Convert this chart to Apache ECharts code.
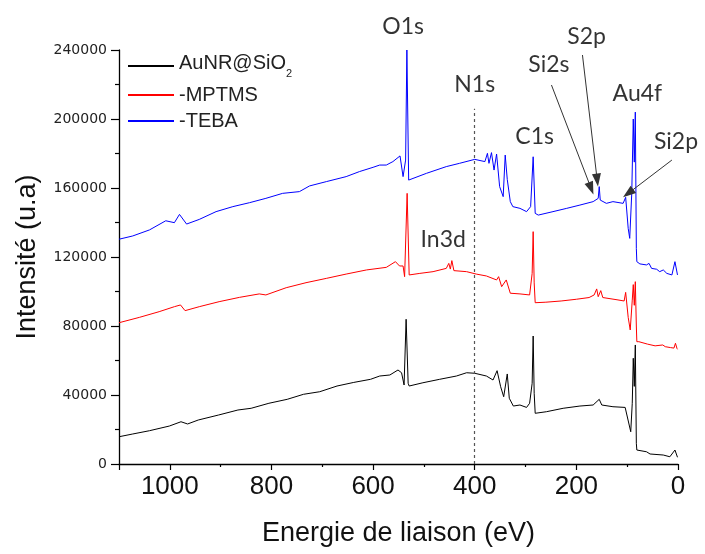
<!DOCTYPE html>
<html><head><meta charset="utf-8">
<script src="https://cdn.jsdelivr.net/npm/echarts@6/dist/echarts.min.js"></script>
<style>html,body{margin:0;padding:0;background:#fff}#c{width:705px;height:554px}</style>
</head><body><div id="c"></div>
<script>
const seriesNames = ['AuNR@SiO2', '-MPTMS', '-TEBA'];
const seriesColors = ['#000000', '#ff0000', '#0000ff'];

// [binding energy (eV), intensity]
const blackData = [
[1100,15800],[1073,17400],[1040,19300],[1001,22000],[978,24500],[965,23200],[944,25500],[904,28400],[866,31300],[840,32300],[805,35200],[769,37500],[737,40400],[705,41900],[671,45200],[638,47300],[605,49100],[587,51000],[567,51600],[551,54500],[544,52900],[539,45800],[535,83900],[531,46800],[529,45200],[502,47100],[469,49100],[436,51000],[416,52900],[400,52600],[377,51000],[364,48700],[356,54100],[349,44800],[343,39000],[336,52200],[332,38100],[324,33600],[311,34200],[298,32800],[292,35200],[287,46800],[285,74200],[283,41000],[281,29400],[259,30300],[226,32300],[193,33600],[167,34200],[155,37500],[150,34200],[128,33200],[104,32800],[101,33600],[93,18700],[90,35200],[88,61300],[86,45000],[84,69000],[82,12000],[81,8100],[62,7100],[55,5800],[29,5200],[16,4200],[6,8100],[1,3900]
];
const redData = [
[1100,81900],[1060,85000],[1021,88300],[991,91200],[979,92200],[970,88900],[942,91200],[903,94100],[863,96600],[824,98600],[811,98000],[771,102200],[732,105100],[692,107600],[653,110100],[613,112500],[574,114000],[556,117300],[548,114800],[541,114800],[538,108600],[533,156900],[529,109600],[508,110500],[482,111500],[456,113400],[451,116300],[448,113000],[445,117900],[441,112100],[416,111500],[397,110100],[377,109000],[357,106700],[353,108600],[347,102800],[338,106700],[330,99000],[311,98600],[292,98000],[287,110500],[285,134700],[283,105000],[281,93500],[260,93800],[230,94500],[200,95500],[175,96500],[165,98000],[160,101500],[157,97000],[152,100500],[148,96500],[120,95200],[106,94500],[103,99500],[98,85000],[94,77700],[90,95000],[88,104000],[86,92000],[84,105700],[82,80000],[81,70900],[77,70900],[60,69500],[45,68500],[30,69000],[25,68000],[15,67500],[8,67200],[5,70000],[2,67000],[1,66500]
];
const blueData = [
[1100,130300],[1073,132200],[1040,135700],[1008,141000],[991,139900],[981,144700],[967,139100],[942,141800],[909,146300],[876,149200],[843,151500],[811,154000],[778,156900],[745,157900],[725,161200],[692,163700],[653,166600],[627,169500],[600,172000],[587,173300],[574,173300],[561,175300],[547,178600],[541,166600],[536,176200],[533.5,240000],[530,164600],[495,168500],[456,172400],[430,174300],[400,176600],[380,175300],[375,180100],[372,174300],[367,180500],[362,170400],[357,179700],[351,160800],[344,155000],[340,179100],[336,165000],[330,152100],[325,149200],[311,148200],[298,146300],[290,149200],[285,178100],[281,145300],[275,144300],[246,146300],[219,148200],[193,150100],[167,152100],[157,154000],[155,160800],[153,153000],[141,151100],[128,152100],[108,151100],[103,154600],[98,136600],[95,130800],[91,157000],[88,200000],[86,175000],[84,204000],[82,125000],[81,117300],[75,116000],[62,115400],[57,116300],[52,113400],[42,112900],[36,111500],[29,112500],[22,110500],[12,109600],[6,117300],[1,109600]
];

// x-axis / y-axis ticks
const xTicks = {min: 0, max: 1100, interval: 200};
const yTicks = {min: 0, max: 240000, interval: 40000};

// peak annotations (text, energy, intensity)
const annoLabels = ['O1s', 'N1s', 'C1s', 'Si2s', 'S2p', 'Au4f', 'Si2p', 'In3d'];
const annoE = [541, 400, 282, 254, 180, 80, 4, 462];
const annoV = [253500, 219700, 189700, 231300, 247700, 214900, 186800, 129900];
// arrows (from -> to)
const arrowFrom = [[249, 219700], [188, 237100], [12, 176200]];
const arrowTo = [[171, 159800], [159, 164600], [98, 156900]];
// N1s reference line
const n1sLine = [[400, 0], [400, 206000]];

const chart = echarts.init(document.getElementById('c'), null, {renderer: 'canvas'});

const dataSets = [blackData, redData, blueData];
const lineSeries = seriesNames.map((n, i) => ({
  name: n, type: 'line', data: dataSets[i], symbol: 'none', showSymbol: false,
  lineStyle: {color: seriesColors[i], width: 1}, itemStyle: {color: seriesColors[i]},
  silent: true, z: 3
}));
lineSeries[0].markLine = {
  silent: true, symbol: ['none', 'none'], label: {show: false},
  lineStyle: {color: '#555', type: [3, 3], width: 1.2},
  data: [[{coord: n1sLine[0]}, {coord: n1sLine[1]}]]
};

const annoSeries = {
  name: 'anno', type: 'scatter', clip: false, silent: true, z: 10,
  symbolSize: 1, itemStyle: {color: 'rgba(0,0,0,0)'},
  data: annoLabels.map((t, i) => ({name: t, value: [annoE[i], annoV[i]]})),
  label: {show: true, position: 'inside', formatter: '{b}', fontFamily: 'Lato', fontSize: 23, color: '#000'},
  markLine: {
    silent: true, symbol: ['none', 'triangle'], symbolSize: [9, 13], label: {show: false},
    lineStyle: {color: '#333', type: 'solid', width: 1},
    data: arrowFrom.map((f, i) => [{coord: f}, {coord: arrowTo[i]}])
  }
};

const option = {
  animation: false,
  backgroundColor: '#fff',
  grid: {left: 119, right: 27, top: 50, bottom: 90},
  legend: {
    data: seriesNames, orient: 'vertical', left: 128, top: 53, padding: 0, itemGap: 6,
    icon: 'rect', itemWidth: 46, itemHeight: 2,
    textStyle: {
      fontFamily: 'Liberation Sans', fontSize: 20, color: '#222',
      rich: {
        a: {fontFamily: 'Liberation Sans', fontSize: 20, color: '#222', padding: [0, 0, 6, 0], verticalAlign: 'bottom'},
        s: {fontFamily: 'Liberation Sans', fontSize: 11, color: '#222', verticalAlign: 'bottom'}
      }
    },
    formatter: n => n === 'AuNR@SiO2' ? '{a|AuNR@SiO}{s|2}' : n
  },
  xAxis: {
    type: 'value', min: xTicks.min, max: xTicks.max, interval: xTicks.interval, inverse: true,
    name: 'Energie de liaison (eV)', nameLocation: 'middle', nameGap: 56,
    nameTextStyle: {fontFamily: 'Liberation Sans', fontSize: 27, color: '#111'},
    axisLine: {onZero: false, lineStyle: {color: '#000', width: 1.3}},
    axisTick: {length: 6, lineStyle: {color: '#000', width: 1.2}},
    minorTick: {show: true, splitNumber: 2, length: 3, lineStyle: {color: '#000', width: 1.2}},
    axisLabel: {fontFamily: 'Liberation Sans', fontSize: 26, color: '#111', margin: 10, showMaxLabel: false, formatter: v => String(v)},
    splitLine: {show: false}, minorSplitLine: {show: false}
  },
  yAxis: {
    type: 'value', min: yTicks.min, max: yTicks.max, interval: yTicks.interval,
    name: 'Intensité (u.a)', nameLocation: 'middle', nameGap: 78,
    nameTextStyle: {fontFamily: 'Liberation Sans', fontSize: 27, color: '#111'},
    axisLine: {show: true, onZero: false, lineStyle: {color: '#000', width: 1.3}},
    axisTick: {show: true, length: 8, lineStyle: {color: '#000', width: 1.2}},
    minorTick: {show: true, splitNumber: 2, length: 4, lineStyle: {color: '#000', width: 1.2}},
    axisLabel: {fontFamily: 'DejaVu Sans', fontSize: 14, color: '#222', margin: 12, formatter: v => String(v)},
    splitLine: {show: false}, minorSplitLine: {show: false}
  },
  series: lineSeries.concat([annoSeries])
};
chart.setOption(option);
</script>
</body></html>
